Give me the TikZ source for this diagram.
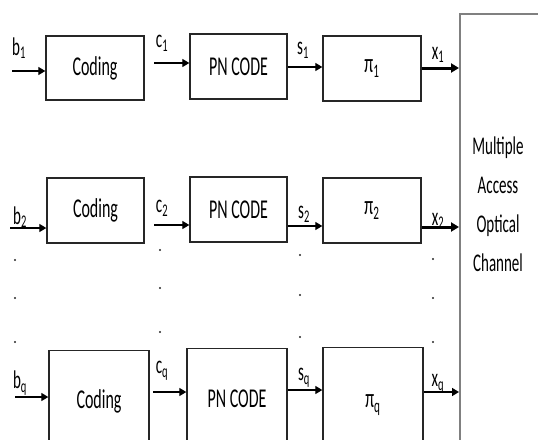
\documentclass[tikz,border=0pt]{standalone}
\usepackage{fontspec}
\setmainfont{Carlito}
\usepackage{graphicx}
\usetikzlibrary{arrows.meta}
\newcommand\tx[1]{\scalebox{1}[1.7]{#1}}
\newcommand\lb[2]{\scalebox{1}[1.7]{#1\textsubscript{#2}}}
\begin{document}
\begin{tikzpicture}[x=1pt,y=-1pt,
  blk/.style={draw=black!85,line width=1.4pt,inner sep=0pt,font=\fontsize{16}{18}\selectfont},
  arr/.style={line width=1.3pt,-{Triangle[length=7pt,width=8pt]}},
  thk/.style={line width=3pt,-{Triangle[length=8pt,width=9pt]}},
  lab/.style={font=\fontsize{15}{17}\selectfont,inner sep=0pt},
  dot/.style={fill=black!85}]
\useasboundingbox (0,0) rectangle (538,439);
% channel
\node[draw=black!50,line width=1.8pt,minimum width=110pt,minimum height=460pt,anchor=north west,inner sep=0pt] (ch) at (459,13) {};
\node[font=\fontsize{15}{39}\selectfont,align=center,inner sep=0pt] (cht) at (498,204) {\tx{Multiple}\\\tx{Access}\\\tx{Optical}\\\tx{Channel}};
% row 1
\node[blk,minimum width=98pt,minimum height=64pt] (co1) at (95,68) {\tx{Coding}};
\node[blk,minimum width=97pt,minimum height=65pt] (pn1) at (238.5,66.5) {\tx{PN CODE}};
\node[blk,minimum width=98pt,minimum height=65pt] (pi1) at (372,68.5) {\tx{π\textsubscript{1}}};
% row 2
\node[blk,minimum width=97pt,minimum height=65pt] (co2) at (95.5,210.5) {\tx{Coding}};
\node[blk,minimum width=97pt,minimum height=65pt] (pn2) at (238.5,209.5) {\tx{PN CODE}};
\node[blk,minimum width=98pt,minimum height=65pt] (pi2) at (372,210.5) {\tx{π\textsubscript{2}}};
% row q
\node[blk,minimum width=100pt,minimum height=110pt,anchor=north] (coq) at (99,350) {};
\node[blk,minimum width=100pt,minimum height=112pt,anchor=north] (pnq) at (237,348) {};
\node[blk,minimum width=100pt,minimum height=113pt,anchor=north] (piq) at (373,347) {};
\node[font=\fontsize{16}{18}\selectfont,inner sep=0pt] (coqt) at (99,401) {\tx{Coding}};
\node[font=\fontsize{16}{18}\selectfont,inner sep=0pt] (pnqt) at (237,399) {\tx{PN CODE}};
\node[font=\fontsize{16}{18}\selectfont,inner sep=0pt] (piqt) at (373,405) {\tx{π\textsubscript{q}}};
% inputs
\coordinate (b1) at (12,71);
\coordinate (b2) at (10,228);
\coordinate (bq) at (15,397);
\coordinate (c1) at (154,63);
\coordinate (c2) at (154,225);
\coordinate (cq) at (153,392);
\draw[arr] (b1) -- (b1 -| co1.west);
\draw[arr] (b2) -- (b2 -| co2.west);
\draw[arr] (bq) -- (bq -| coq.west);
\draw[arr] (c1) -- (c1 -| pn1.west);
\draw[arr] (c2) -- (c2 -| pn2.west);
\draw[arr] (cq) -- (cq -| pnq.west);
\draw[arr] (pn1.east |- 0,67) -- (pi1.west |- 0,67);
\draw[arr] (pn2.east |- 0,226) -- (pi2.west |- 0,226);
\draw[arr] (pnq.east |- 0,390) -- (piq.west |- 0,390);
\draw[thk] (pi1.east |- 0,68) -- (ch.west |- 0,68);
\draw[thk] (pi2.east |- 0,227) -- (ch.west |- 0,227);
\draw[arr,line width=1.6pt] (piq.east |- 0,392) -- (ch.west |- 0,392);
% labels
\node[lab] (lb1) at (19,48) {\lb{b}{1}};
\node[lab] (lc1) at (162,43) {\lb{c}{1}};
\node[lab] (ls1) at (303,50) {\lb{s}{1}};
\node[lab] (lx1) at (438,55) {\lb{x}{1}};
\node[lab] (lb2) at (20,217) {\lb{b}{2}};
\node[lab] (lc2) at (162,208) {\lb{c}{2}};
\node[lab] (ls2) at (304,214) {\lb{s}{2}};
\node[lab] (lx2) at (438,221) {\lb{x}{2}};
\node[lab] (lbq) at (20,383) {\lb{b}{q}};
\node[lab] (lcq) at (162,371) {\lb{c}{q}};
\node[lab] (lsq) at (304,378) {\lb{s}{q}};
\node[lab] (lxq) at (438,384) {\lb{x}{q}};
% dots
\foreach \y in {260,298,342} \fill[dot] (15,\y) circle (1.2pt);
\foreach \y in {250,288,332} \fill[dot] (160,\y) circle (1.2pt);
\foreach \y in {255,295,337} \fill[dot] (300,\y) circle (1.2pt);
\foreach \y in {259,298,342} \fill[dot] (433,\y) circle (1.2pt);
\end{tikzpicture}
\end{document}
